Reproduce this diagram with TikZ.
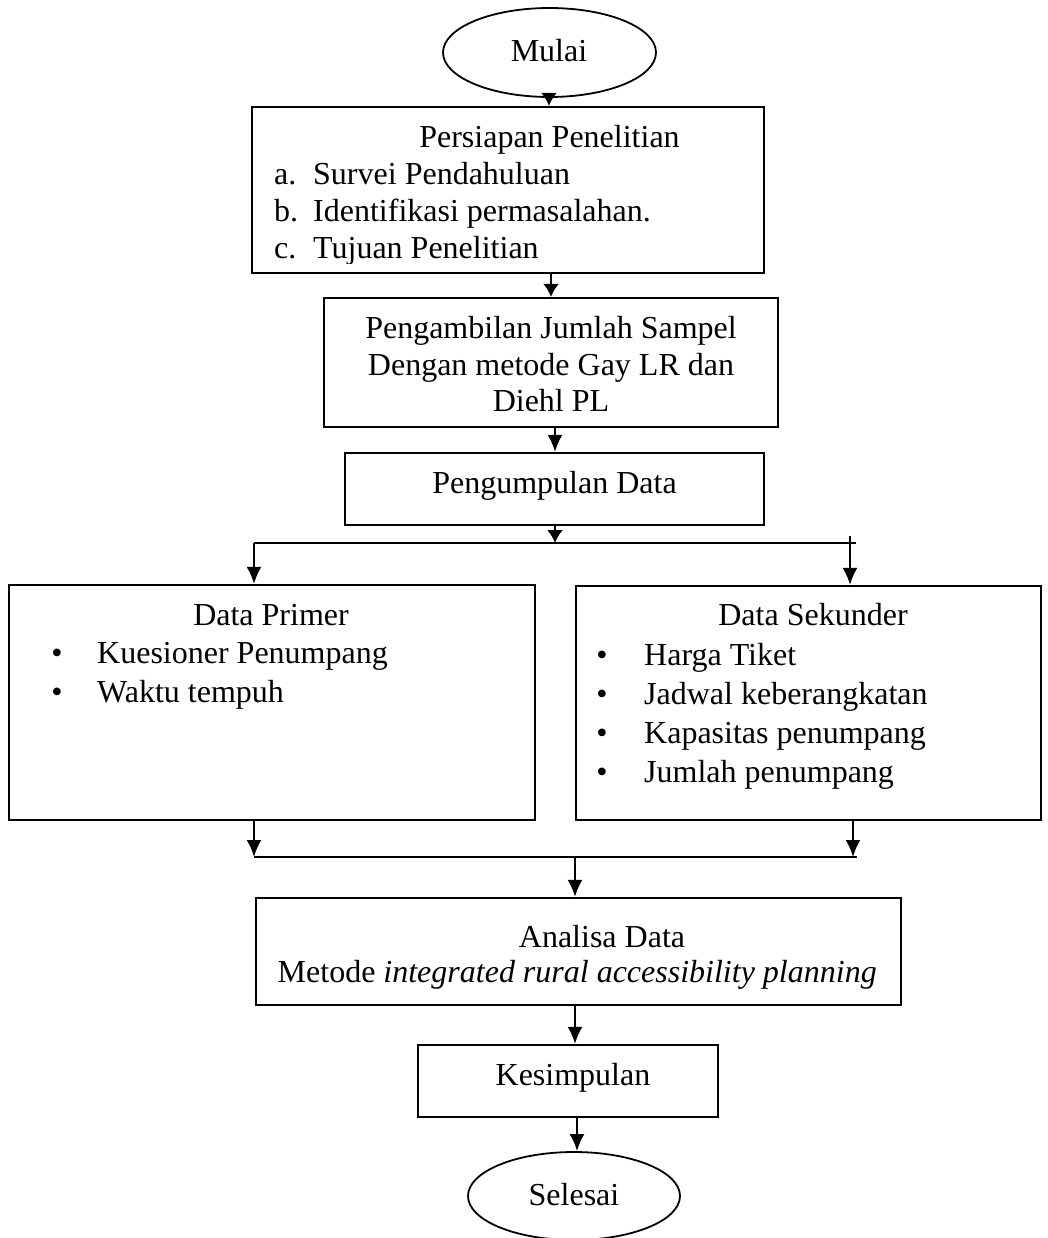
\documentclass[tikz,border=0pt]{standalone}
\usepackage{fontspec}
\setmainfont{Liberation Serif}
\usetikzlibrary{shapes.geometric,arrows.meta}
\begin{document}
\begin{tikzpicture}[x=1pt,y=-1pt,
  font=\fontsize{32pt}{37pt}\selectfont,
  box/.style={draw,line width=2.2pt,rectangle,inner sep=0pt},
  oval/.style={draw,line width=1.8pt,ellipse,inner sep=0pt},
  txt/.style={inner sep=0pt,anchor=base},
  txtl/.style={inner sep=0pt,anchor=base west},
  ln/.style={line width=2.2pt},
  arr/.style={line width=2.2pt,-{Latex[length=17pt,width=15pt]}},
  arrs/.style={line width=2.2pt,-{Latex[length=13pt,width=16pt]}}]
\useasboundingbox (0,0) rectangle (1048,1238);

% boxes
\node[oval,minimum width=213pt,minimum height=89pt] (mulai) at (549.5,52.5) {};
\node[box,minimum width=512pt,minimum height=166pt] (prep) at (508,190) {};
\node[box,minimum width=454pt,minimum height=129pt] (sampel) at (551,362.5) {};
\node[box,minimum width=419pt,minimum height=72pt] (kumpul) at (554.5,489) {};
\node[box,minimum width=526pt,minimum height=235pt] (primer) at (272,702.5) {};
\node[box,minimum width=465pt,minimum height=234pt] (sekunder) at (808.5,703) {};
\node[box,minimum width=645pt,minimum height=107pt] (analisa) at (578.5,951.5) {};
\node[box,minimum width=300pt,minimum height=72pt] (simpul) at (568,1081) {};
\node[oval,minimum width=212pt,minimum height=88pt] (selesai) at (574,1196) {};

% texts
\node[txt] (tmulai) at (549,62) {Mulai};
\node[txt] (tprep) at (549.5,148) {Persiapan Penelitian};
\begin{scope}
\clip (252,107) rectangle (764,264);
\node[txtl] (la) at (274,185) {a.};
\node[txtl] (ta) at (313,185) {Survei Pendahuluan};
\node[txtl] (lb) at (274,222) {b.};
\node[txtl] (tb) at (313,222) {Identifikasi permasalahan.};
\node[txtl] (lc) at (274,259) {c.};
\node[txtl] (tc) at (313,259) {Tujuan Penelitian};
\end{scope}
\node[txt] (ts1) at (551,338) {Pengambilan Jumlah Sampel};
\node[txt] (ts2) at (551,375) {Dengan metode Gay LR dan};
\node[txt] (ts3) at (551,411) {Diehl PL};
\node[txt] (tkumpul) at (554.5,493) {Pengumpulan Data};

\node[txt] (tprimer) at (271,625) {Data Primer};
\node[txt] (bp1) at (57,663) {•};
\node[txtl] (tp1) at (97,663) {Kuesioner Penumpang};
\node[txt] (bp2) at (57,702) {•};
\node[txtl] (tp2) at (97,702) {Waktu tempuh};

\node[txt] (tsek) at (813,625) {Data Sekunder};
\node[txt] (bs1) at (602,665) {•};
\node[txtl] (ts1b) at (644,665) {Harga Tiket};
\node[txt] (bs2) at (602,704) {•};
\node[txtl] (ts2b) at (644,704) {Jadwal keberangkatan};
\node[txt] (bs3) at (602,743) {•};
\node[txtl] (ts3b) at (644,743) {Kapasitas penumpang};
\node[txt] (bs4) at (602,782) {•};
\node[txtl] (ts4b) at (644,782) {Jumlah penumpang};

\node[txt] (tanalisa) at (602,947) {Analisa Data};
\node[txtl] (tmetode) at (277.5,982) {Metode \textit{integrated rural accessibility planning}};
\node[txt] (tsimpul) at (573,1085) {Kesimpulan};
\node[txt] (tselesai) at (574,1205) {Selesai};

% connector columns
\coordinate (c1) at (549,0);
\coordinate (c2) at (551,0);
\coordinate (c3) at (555,0);
\coordinate (cl) at (254,0);
\coordinate (cr) at (850,0);
\coordinate (crb) at (853,0);
\coordinate (cm) at (575,0);
\coordinate (ck) at (577,0);
\coordinate (splitL) at (254,543);
\coordinate (splitR) at (856,543);
\coordinate (splitM) at (555,543);
\coordinate (tickR) at (850,536);
\coordinate (mergeL) at (254,857);
\coordinate (mergeR) at (857,857);
\coordinate (mergeM) at (575,857);
\coordinate (mergeRb) at (853,857);

% connectors
\draw[arrs] (c1 |- mulai.south) -- (c1 |- prep.north);
\draw[arrs] (c2 |- prep.south) -- (c2 |- sampel.north);
\draw[arr] (c3 |- sampel.south) -- (c3 |- kumpul.north);
\draw[arrs] (c3 |- kumpul.south) -- (splitM);
\draw[ln] (splitL) -- (splitR);
\draw[arr] (splitL) -- (cl |- primer.north);
\draw[arr] (tickR) -- (cr |- sekunder.north);
\draw[arr] (cl |- primer.south) -- (mergeL);
\draw[arr] (crb |- sekunder.south) -- (mergeRb);
\draw[ln] (mergeL) -- (mergeR);
\draw[arr] (mergeM) -- (cm |- analisa.north);
\draw[arr] (cm |- analisa.south) -- (cm |- simpul.north);
\draw[arr] (ck |- simpul.south) -- (ck |- selesai.north);
\end{tikzpicture}
\end{document}
